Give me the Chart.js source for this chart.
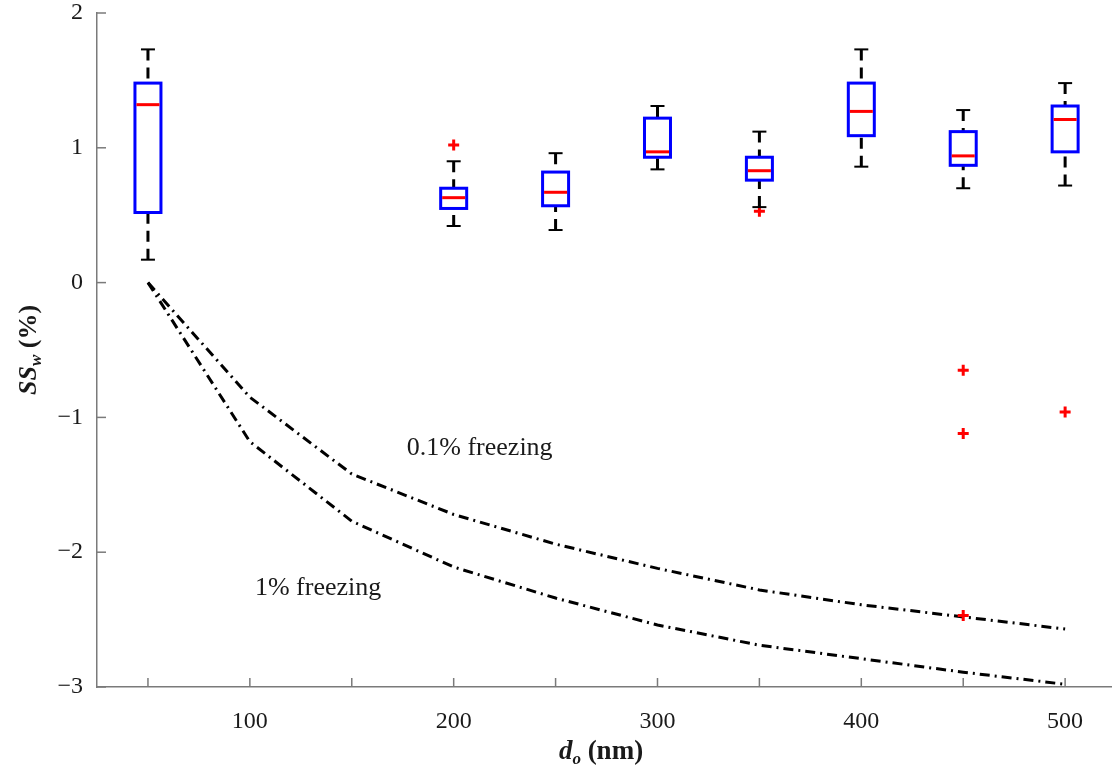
<!DOCTYPE html>
<html>
<head>
<meta charset="utf-8">
<title>SSw vs dry diameter</title>
<script src="https://cdn.jsdelivr.net/npm/chart.js@4.4.0/dist/chart.umd.min.js"></script>
<style>
    html, body { margin: 0; padding: 0; background: #ffffff; }
    #wrap { width: 1112px; height: 772px; }
</style>
</head>
<body>
<div id="wrap"><canvas id="sswChart" width="1112" height="772"></canvas></div>
<script>
// ========================================
// DATA
// ========================================
const boxSizes  = [50, 200, 250, 300, 350, 400, 450, 500];
const boxLow    = [0.17, 0.42, 0.39, 0.84, 0.56, 0.86, 0.70, 0.72];
const boxQ1     = [0.52, 0.55, 0.57, 0.93, 0.76, 1.09, 0.87, 0.97];
const boxMedian = [1.32, 0.63, 0.67, 0.97, 0.83, 1.27, 0.94, 1.21];
const boxQ3     = [1.48, 0.70, 0.82, 1.22, 0.93, 1.48, 1.12, 1.31];
const boxHigh   = [1.73, 0.90, 0.96, 1.31, 1.12, 1.73, 1.28, 1.48];

const outlierSizes  = [200, 350, 450, 450, 450, 500];
const outlierValues = [1.02, 0.53, -0.65, -1.12, -2.47, -0.96];

const curveSizes = [50, 100, 150, 200, 250, 300, 350, 400, 450, 500];
const freezing01 = [0, -0.85, -1.42, -1.72, -1.94, -2.12, -2.28, -2.39, -2.48, -2.57];
const freezing1  = [0, -1.18, -1.77, -2.11, -2.34, -2.54, -2.69, -2.79, -2.89, -2.98];

const curveLabels = ['0.1% freezing', '1% freezing'];
const labelAnchors = [[177, -1.28], [102.5, -2.32]]; // [nm, SSw] of text baseline start

const xTickValues = [50, 100, 150, 200, 250, 300, 350, 400, 450, 500];
const yTickValues = [-3, -2, -1, 0, 1, 2];

// ========================================
// STYLE
// ========================================
const SERIF = "'Liberation Serif', 'DejaVu Serif', serif";
const AXIS_GRAY = '#7a7a7a';
const BOX_HALF = 13;
const CAP_HALF = 7;
const TICK_LEN = 9;

function toPoints(xs, ys) {
    return xs.map((v, i) => ({ x: v, y: ys[i] }));
}

function strokeLine(ctx, x1, y1, x2, y2) {
    ctx.beginPath();
    ctx.moveTo(x1, y1);
    ctx.lineTo(x2, y2);
    ctx.stroke();
}

// text made of runs with different fonts (for subscripts)
function drawRuns(ctx, runs, x, y) {
    let total = 0;
    runs.forEach(r => {
        ctx.font = r.font;
        r.w = ctx.measureText(r.text).width;
        total += r.w;
    });
    let cx = x - total / 2;
    runs.forEach(r => {
        ctx.font = r.font;
        ctx.fillText(r.text, cx, y + (r.dy || 0));
        cx += r.w;
    });
}

// ========================================
// BOX PLOT PLUGIN
// ========================================
const boxPlotPlugin = {
    id: 'boxPlot',
    afterDatasetsDraw(chart) {
        const { ctx } = chart;
        const x = chart.scales.x;
        const y = chart.scales.y;
        ctx.save();
        boxSizes.forEach((d, i) => {
            const cx = x.getPixelForValue(d);
            const yLow = y.getPixelForValue(boxLow[i]);
            const yQ1 = y.getPixelForValue(boxQ1[i]);
            const yMed = y.getPixelForValue(boxMedian[i]);
            const yQ3 = y.getPixelForValue(boxQ3[i]);
            const yHigh = y.getPixelForValue(boxHigh[i]);

            // dashed whiskers
            ctx.strokeStyle = '#000000';
            ctx.lineWidth = 3;
            ctx.setLineDash([11, 7]);
            strokeLine(ctx, cx, yHigh, cx, yQ3);
            strokeLine(ctx, cx, yLow, cx, yQ1);
            ctx.setLineDash([]);

            // caps
            ctx.lineWidth = 2;
            strokeLine(ctx, cx - CAP_HALF, yHigh, cx + CAP_HALF, yHigh);
            strokeLine(ctx, cx - CAP_HALF, yLow, cx + CAP_HALF, yLow);

            // box
            ctx.fillStyle = '#ffffff';
            ctx.fillRect(cx - BOX_HALF, yQ3, BOX_HALF * 2, yQ1 - yQ3);
            ctx.strokeStyle = '#0000ff';
            ctx.lineWidth = 3;
            ctx.strokeRect(cx - BOX_HALF, yQ3, BOX_HALF * 2, yQ1 - yQ3);

            // median
            ctx.strokeStyle = '#ff0000';
            strokeLine(ctx, cx - BOX_HALF + 1.5, yMed, cx + BOX_HALF - 1.5, yMed);
        });
        ctx.restore();
    },
    afterDraw(chart) {
        const { ctx, chartArea } = chart;
        const x = chart.scales.x;
        const y = chart.scales.y;
        ctx.save();

        // inward tick marks
        ctx.strokeStyle = AXIS_GRAY;
        ctx.lineWidth = 1.5;
        xTickValues.forEach(v => {
            const px = x.getPixelForValue(v);
            strokeLine(ctx, px, chartArea.bottom, px, chartArea.bottom - TICK_LEN);
        });
        yTickValues.forEach(v => {
            const py = y.getPixelForValue(v);
            strokeLine(ctx, chartArea.left, py, chartArea.left + TICK_LEN, py);
        });

        // curve labels
        ctx.fillStyle = '#1a1a1a';
        ctx.textBaseline = 'alphabetic';
        ctx.textAlign = 'left';
        ctx.font = '26px ' + SERIF;
        curveLabels.forEach((t, i) => {
            ctx.fillText(t, x.getPixelForValue(labelAnchors[i][0]), y.getPixelForValue(labelAnchors[i][1]));
        });

        // x axis title: d_o (nm)
        drawRuns(ctx, [
            { text: 'd', font: 'italic bold 27px ' + SERIF },
            { text: 'o', font: 'italic bold 17px ' + SERIF, dy: 5 },
            { text: ' (nm)', font: 'bold 27px ' + SERIF }
        ], 601, 759);

        // y axis title: SS_w (%)
        ctx.translate(36, 350);
        ctx.rotate(-Math.PI / 2);
        drawRuns(ctx, [
            { text: 'SS', font: 'italic bold 26px ' + SERIF },
            { text: 'w', font: 'italic bold 17px ' + SERIF, dy: 5 },
            { text: ' (%)', font: 'bold 26px ' + SERIF }
        ], 0, 0);

        ctx.restore();
    }
};

// ========================================
// CHART
// ========================================
const ctx = document.getElementById('sswChart').getContext('2d');

new Chart(ctx, {
    type: 'scatter',
    data: {
        datasets: [
            {
                label: 'outliers',
                data: toPoints(outlierSizes, outlierValues),
                pointStyle: 'cross',
                pointRadius: 5.5,
                borderColor: '#ff0000',
                backgroundColor: '#ff0000',
                pointBorderWidth: 3
            },
            {
                label: '0.1% freezing',
                data: toPoints(curveSizes, freezing01),
                showLine: true,
                pointRadius: 0,
                borderColor: '#000000',
                borderWidth: 3,
                borderDash: [10, 5, 2, 5],
                tension: 0
            },
            {
                label: '1% freezing',
                data: toPoints(curveSizes, freezing1),
                showLine: true,
                pointRadius: 0,
                borderColor: '#000000',
                borderWidth: 3,
                borderDash: [10, 5, 2, 5],
                tension: 0
            }
        ]
    },
    options: {
        responsive: false,
        animation: false,
        layout: { autoPadding: false, padding: { top: 13, right: 0, bottom: 0, left: 0 } },
        plugins: {
            legend: { display: false },
            tooltip: { enabled: false }
        },
        scales: {
            x: {
                type: 'linear',
                min: 25,
                max: 523,
                afterBuildTicks: s => { s.ticks = xTickValues.map(v => ({ value: v })); },
                afterFit: s => {
                    s.height = 85;
                    s.paddingLeft = 0;
                    s.paddingRight = 0;
                },
                grid: { display: false, drawTicks: false },
                border: { display: true, color: AXIS_GRAY, width: 1.5 },
                ticks: {
                    autoSkip: false,
                    maxRotation: 0,
                    padding: 20,
                    color: '#1a1a1a',
                    font: { family: SERIF, size: 24 },
                    callback: v => (v % 100 === 0 ? String(v) : '')
                }
            },
            y: {
                type: 'linear',
                min: -3,
                max: 2,
                afterBuildTicks: s => { s.ticks = yTickValues.map(v => ({ value: v })); },
                afterFit: s => {
                    s.width = 97;
                    s.paddingTop = 0;
                    s.paddingBottom = 0;
                },
                grid: { display: false, drawTicks: false },
                border: { display: true, color: AXIS_GRAY, width: 1.5 },
                ticks: {
                    padding: 14,
                    color: '#1a1a1a',
                    font: { family: SERIF, size: 24 },
                    callback: v => (v < 0 ? '\u2212' + Math.abs(v) : String(v))
                }
            }
        }
    },
    plugins: [boxPlotPlugin]
});
</script>
</body>
</html>
